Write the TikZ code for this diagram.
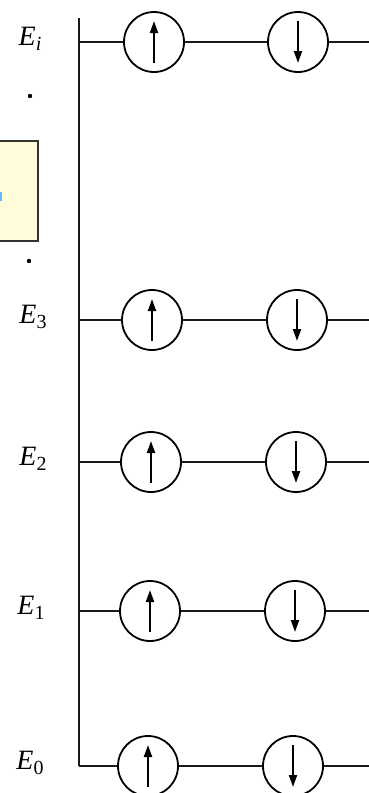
\documentclass[tikz,border=0pt]{standalone}
\usepackage{fontspec}
\setmainfont{Liberation Serif}
\usetikzlibrary{arrows.meta,calc}
\begin{document}
\begin{tikzpicture}[x=1pt,y=-1pt,
  wire/.style={line width=2pt,black!90},
  orbital/.style={circle,draw,line width=1.8pt,minimum size=60pt,inner sep=0pt},
  spin/.style={line width=2pt,-{Triangle[length=12pt,width=8pt]}},
  lvl/.style={font=\fontsize{28}{28}\selectfont,anchor=center},
  note/.style={draw=black!80,line width=1.8pt,fill=yellow!15}]
\useasboundingbox (0,0) rectangle (369,793);
% clipped annotation box on the left edge
\begin{scope}
  \clip (0,0) rectangle (369,793);
  \node[note,minimum width=60pt,minimum height=100pt,inner sep=0pt] (note) at (8,191) {};
  \fill[blue!45!cyan!60] (0,192) rectangle (2,201);
\end{scope}
% vertical axis
\coordinate (top) at (79,18);
\coordinate (bot) at (79,766);
\draw[wire] (top) -- (bot);
% energy levels: name / y / first orbital x / second orbital x / label / label x
\foreach \n/\y/\xa/\xb/\lab/\lx in {
  i/42/154/298/{\textit{E}\raisebox{-5pt}{\fontsize{20}{20}\selectfont\textit{i}}}/30,
  3/320/152/297/{\textit{E}\raisebox{-5pt}{\fontsize{20}{20}\selectfont 3}}/33,
  2/462/151/296/{\textit{E}\raisebox{-5pt}{\fontsize{20}{20}\selectfont 2}}/33,
  1/611/150/295/{\textit{E}\raisebox{-5pt}{\fontsize{20}{20}\selectfont 1}}/31,
  0/766/148/293/{\textit{E}\raisebox{-5pt}{\fontsize{20}{20}\selectfont 0}}/30}{
  \coordinate (s\n) at (79,\y);
  \coordinate (e\n) at (369,\y);
  \node[orbital] (u\n) at (\xa,\y) {};
  \node[orbital] (d\n) at (\xb,\y) {};
  \node[lvl] (l\n) at (\lx,\y-3) {\lab};
  \draw[wire] (s\n) -- (u\n) (u\n) -- (d\n) (d\n) -- (e\n);
  \draw[spin] ($(u\n.center)+(0,21)$) -- ($(u\n.center)+(0,-21)$);
  \draw[spin] ($(d\n.center)+(0,-21)$) -- ($(d\n.center)+(0,21)$);
}
% ellipsis dots between E_3 and E_i
\fill (30,96) circle (2.2pt) node (dotA) {};
\fill (29,261) circle (2.2pt) node (dotB) {};
\end{tikzpicture}
\end{document}
